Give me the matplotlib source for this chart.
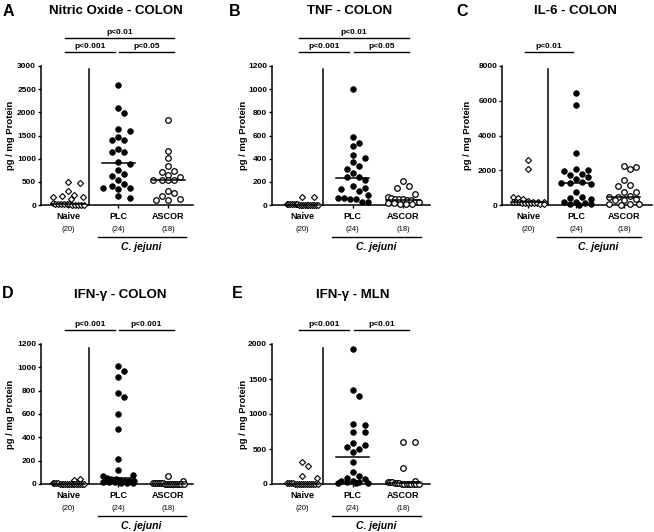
import numpy as np
import matplotlib
matplotlib.use('Agg')
import matplotlib.pyplot as plt
from matplotlib.transforms import offset_copy

plt.rcParams['font.family'] = ['Liberation Sans', 'DejaVu Sans']

# group labels
groups = ['Naive', 'PLC', 'ASCOR']
group_n = ['(20)', '(24)', '(18)']

# A - nitric oxide colon
no_naive = [490, 470, 310, 210, 190, 180, 170, 120, 35, 25, 20, 18, 15, 15, 12, 10, 10, 8, 5, 5]
no_plc = [2580, 2100, 1990, 1650, 1600, 1460, 1400, 1400, 1200, 1140, 1140, 930,
          880, 750, 660, 620, 540, 450, 400, 370, 360, 350, 200, 150]
no_ascor = [1840, 1160, 1010, 840, 740, 720, 650, 610, 550, 550, 540, 540, 310, 250, 190, 140, 100, 100]

# B - TNF colon
tnf_naive = [72, 68, 10, 8, 8, 6, 5, 5, 5, 4, 4, 3, 3, 2, 2, 2, 1, 1, 0, 0]
tnf_plc = [1000, 590, 535, 510, 430, 410, 370, 340, 315, 280, 245, 240,
           220, 160, 145, 140, 120, 90, 60, 60, 55, 50, 25, 25]
tnf_ascor = [205, 160, 145, 95, 70, 60, 55, 50, 48, 45, 40, 30, 25, 20, 15, 10, 10, 5]

# C - IL-6 colon
il6_naive = [2600, 2100, 480, 380, 330, 250, 200, 180, 170, 160, 150, 150, 140, 130, 120, 110, 100, 90, 80, 60]
il6_plc = [6430, 5740, 2995, 2090, 2010, 1980, 1760, 1720, 1600, 1520, 1300, 1280,
           1250, 1180, 730, 470, 420, 330, 200, 160, 100, 80, 40, 10]
il6_ascor = [2250, 2200, 2050, 1450, 1150, 1100, 760, 720, 500, 470, 450, 330, 300, 280, 60, 40, 30, 20]

# D - IFN-g colon
ifnc_naive = [40, 35, 8, 6, 5, 5, 4, 4, 3, 3, 3, 2, 2, 2, 1, 1, 1, 0, 0, 0]
ifnc_plc = [1010, 970, 915, 780, 745, 600, 470, 215, 120, 75, 70, 52,
            46, 40, 35, 30, 28, 25, 20, 18, 15, 12, 10, 8]
ifnc_ascor = [65, 30, 10, 8, 7, 6, 5, 5, 4, 4, 3, 3, 2, 2, 1, 1, 0, 0]

# E - IFN-g MLN
ifnm_naive = [320, 263, 115, 90, 12, 10, 8, 8, 6, 5, 5, 4, 4, 3, 3, 2, 2, 1, 1, 0]
ifnm_plc = [1925, 1337, 1260, 855, 850, 750, 740, 592, 560, 535, 501, 458,
            320, 177, 110, 90, 70, 50, 40, 30, 25, 20, 15, 10]
ifnm_ascor = [600, 600, 225, 45, 35, 30, 25, 10, 8, 8, 6, 5, 4, 3, 3, 2, 1, 0]

W, H = 654, 532


def fx(x):
    return x / W


def fy(y):
    return 1 - y / H


def swarm(ax, vals, d_row=5.6, d=6.5, s=6.0, max_w=31.0, dense=6):
    """prism-like scatter: dense rows spread evenly, the rest beeswarm on a narrow column grid"""
    t = ax.transData
    px_x = t.transform((1, 0))[0] - t.transform((0, 0))[0]
    y1 = ax.get_ylim()[1]
    px_y = (t.transform((0, y1))[1] - t.transform((0, 0))[1]) / y1
    y = np.asarray(vals, dtype=float) * px_y
    n = len(y)
    xs = np.full(n, np.nan)
    placed = []
    rows = {}
    for i, v in enumerate(y):
        rows.setdefault(int(np.floor(v / d_row + 0.5)), []).append(i)
    for r, idx in rows.items():
        if len(idx) >= dense:
            m = len(idx)
            sp = min(s, max_w / (m - 1))
            for k, i in enumerate(idx):
                xs[i] = (k - (m - 1) / 2) * sp
                placed.append(i)
    slots = [0, 1, -1, 2, -2]
    fine = np.arange(-5, 6) * s / 2

    def gap(x, i):
        if not placed:
            return np.inf
        return min(np.hypot(x - xs[j], y[i] - y[j]) for j in placed)

    for i in np.argsort(-y):
        if i in placed:
            continue
        best = None
        for k in slots:
            if gap(k * s, i) >= d:
                best = k * s
                break
        if best is None:
            g = [gap(x, i) - 0.01 * abs(x) for x in fine]
            best = fine[int(np.argmax(g))]
        xs[i] = best
        placed.append(i)
    return xs / px_x


panels = [
    dict(letter='A', title='Nitric Oxide - COLON', data=[no_naive, no_plc, no_ascor],
         box=(41, 193, 66, 205), xc=(68, 50), ymax=3000, step=500,
         letter_xy=(8, 11), title_xy=(116, 11), ylab_x=11,
         brackets=[(0, 1, 'p<0.001', 1.10), (1, 2, 'p<0.05', 1.10), (0, 2, 'p<0.01', 1.20)]),
    dict(letter='B', title='TNF - COLON', data=[tnf_naive, tnf_plc, tnf_ascor],
         box=(272, 430, 66, 205), xc=(302, 50.5), ymax=1200, step=200,
         letter_xy=(235, 11), title_xy=(350, 11), ylab_x=244,
         brackets=[(0, 1, 'p<0.001', 1.10), (1, 2, 'p<0.05', 1.10), (0, 2, 'p<0.01', 1.20)]),
    dict(letter='C', title='IL-6 - COLON', data=[il6_naive, il6_plc, il6_ascor],
         box=(502, 652, 66, 205), xc=(528, 48), ymax=8000, step=2000,
         letter_xy=(462, 11), title_xy=(575, 11), ylab_x=467,
         brackets=[(0, 1, 'p<0.01', 1.10)]),
    dict(letter='D', title='IFN-γ - COLON', data=[ifnc_naive, ifnc_plc, ifnc_ascor],
         box=(41, 193, 344, 484), xc=(68, 50), ymax=1200, step=200,
         letter_xy=(8, 293), title_xy=(120, 295), ylab_x=11,
         brackets=[(0, 1, 'p<0.001', 1.10), (1, 2, 'p<0.001', 1.10)]),
    dict(letter='E', title='IFN-γ - MLN', data=[ifnm_naive, ifnm_plc, ifnm_ascor],
         box=(272, 430, 344, 484), xc=(302, 50.5), ymax=2000, step=500,
         letter_xy=(237, 293), title_xy=(353, 295), ylab_x=244,
         brackets=[(0, 1, 'p<0.001', 1.10), (1, 2, 'p<0.01', 1.10)]),
]

styles = [dict(marker='D', ms=3.1, mfc='white', mec='black', mew=0.8),
          dict(marker='o', ms=4.0, mfc='black', mec='black', mew=0.6),
          dict(marker='o', ms=4.0, mfc='white', mec='black', mew=0.9)]

fig = plt.figure(figsize=(W / 100, H / 100), dpi=100)

for p in panels:
    l, r, t, b = p['box']
    ax = fig.add_axes([fx(l), fy(b), fx(r) - fx(l), fy(t) - fy(b)])
    x0, sp = p['xc']
    ax.set_xlim((l - x0) / sp, (r - x0) / sp)
    ax.set_ylim(0, p['ymax'])
    for s in ['top', 'right']:
        ax.spines[s].set_visible(False)
    for s in ['left', 'bottom']:
        ax.spines[s].set_linewidth(1.1)
    ax.set_yticks(np.arange(0, p['ymax'] + 1, p['step']))
    ax.set_xticks([0, 1, 2])
    ax.set_xticklabels([])
    ax.tick_params(axis='y', length=2.5, width=1, pad=1, labelsize=6)
    ax.tick_params(axis='x', length=2, width=1)
    for lab in ax.get_yticklabels():
        lab.set_fontweight('bold')

    for g, vals in enumerate(p['data']):
        vals = np.array(vals, dtype=float)
        offs = swarm(ax, vals)
        ax.plot(g + offs, vals, ls='none', clip_on=False, zorder=3, **styles[g])
        med = np.median(vals)
        ax.plot([g - 0.33, g + 0.33], [med, med], color='black', lw=1.1, zorder=4, clip_on=False)

    # separator between naive and infected
    ax.plot([0.41, 0.41], [0, 0.975], color='black', lw=1.1,
            transform=ax.get_xaxis_transform(), clip_on=False)

    xt = ax.get_xaxis_transform()
    for i, j, txt, yb in p['brackets']:
        xa = i - 0.06
        xb = j + 0.12 if j == 2 else j - 0.06
        if i == 1:
            xa = 1.02
        ax.plot([xa, xb], [yb, yb], color='black', lw=1.0, transform=xt, clip_on=False)
        ax.annotate(txt, xy=((xa + xb) / 2, yb), xycoords=xt, xytext=(0, 4.3),
                    textcoords='offset points', ha='center', va='center',
                    fontsize=6, fontweight='bold')

    for g in range(3):
        ax.annotate(groups[g], xy=(g, 0), xycoords=xt, xytext=(0, -8),
                    textcoords='offset points', ha='center', va='center',
                    fontsize=6.5, fontweight='bold')
        ax.annotate(group_n[g], xy=(g, 0), xycoords=xt, xytext=(0, -17.3),
                    textcoords='offset points', ha='center', va='center', fontsize=5.5)
    ax.plot([0.6, 2.35], [0, 0], color='black', lw=1.0, clip_on=False,
            transform=offset_copy(xt, fig=fig, x=0, y=-23, units='points'))
    ax.annotate('C. jejuni', xy=(1.47, 0), xycoords=xt, xytext=(0, -30),
                textcoords='offset points', ha='center', va='center',
                fontsize=7.5, fontweight='bold', fontstyle='italic')

    fig.text(fx(p['letter_xy'][0]), fy(p['letter_xy'][1]), p['letter'],
             ha='center', va='center', fontsize=11.5, fontweight='bold')
    fig.text(fx(p['title_xy'][0]), fy(p['title_xy'][1]), p['title'],
             ha='center', va='center', fontsize=9.5, fontweight='bold')
    fig.text(fx(p['ylab_x']), fy((t + b) / 2), 'pg / mg Protein', rotation=90,
             ha='center', va='center', fontsize=6.8, fontweight='bold')

fig.savefig('out.png', dpi=100)
